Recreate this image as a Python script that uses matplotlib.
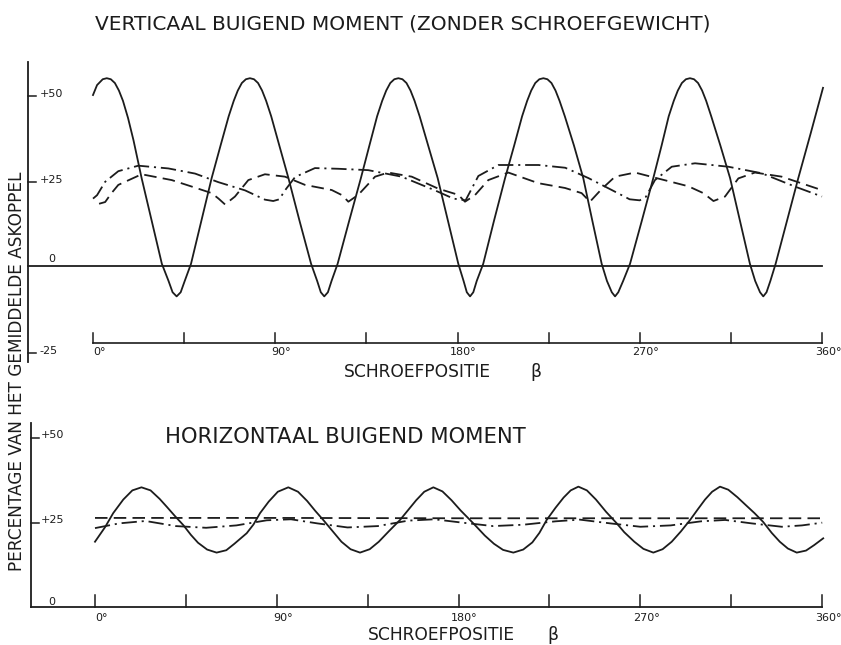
import matplotlib
matplotlib.use("Agg")
import matplotlib.pyplot as plt

plt.rcParams['font.family'] = ['DejaVu Sans']
plt.rcParams['lines.scale_dashes'] = False

# ---------------- data ----------------
# Top panel: vertical bending moment (percentage of mean shaft torque)
top_solid_deg = [0, 2, 4.8, 6.8, 8.8, 10.8, 12.8, 14.8, 17.3, 20, 24, 29, 34,
                 37.3, 39.3, 41.3, 43.3, 45.3, 48.4,
                 53.5, 58.6, 63, 67, 69.5, 71.5, 73.5, 75.5, 77.5, 79.5, 81.5, 83.5, 85.5, 88, 92, 96.5, 102, 107.7,
                 110.7, 112.5, 114.2, 116, 117.8, 120.8,
                 126.5, 132.3, 136.5, 140.3, 142.8, 144.8, 146.8, 148.8, 150.8, 152.8, 154.8, 156.8, 158.8, 161.3,
                 165.5, 170.2, 175.3, 180.4,
                 183, 184.6, 186.2, 187.8, 189.5, 192.7,
                 198, 203.5, 208, 211.9, 214.4, 216.4, 218.4, 220.4, 222.4, 224.4, 226.4, 228.4, 230.4, 233,
                 237.5, 242.1, 246.6, 251.2,
                 253.8, 256.2, 257.8, 259.4, 261.8, 265.2,
                 271, 276.7, 280.8, 284.3, 286.8, 288.8, 290.8, 292.8, 294.8, 296.8, 298.8, 300.8, 302.8, 305.3,
                 309.8, 314.6, 319.5, 324.4,
                 327, 329.4, 331, 332.6, 334.5, 337.1,
                 342.7, 348.3, 354.4, 360.5]
top_solid_val = [49.7, 52.6, 54.3, 54.6, 54.3, 53.2, 51.0, 48.0, 43.0, 36.5, 25.5, 13.0, 0.5,
                 -4.5, -7.8, -9.0, -7.8, -4.5, 0.5,
                 13.0, 25.5, 35.0, 43.5, 48.0, 51.0, 53.2, 54.3, 54.6, 54.3, 53.2, 51.0, 48.0, 43.5, 35.0, 25.5, 13.0, 0.5,
                 -4.5, -7.8, -9.0, -7.8, -4.5, 0.5,
                 13.0, 25.5, 35.0, 43.5, 48.0, 51.0, 53.2, 54.3, 54.6, 54.3, 53.2, 51.0, 48.0, 43.5,
                 35.0, 25.5, 13.0, 0.5,
                 -4.5, -7.8, -9.0, -7.8, -4.5, 0.5,
                 13.0, 25.5, 35.0, 43.5, 48.0, 51.0, 53.2, 54.3, 54.6, 54.3, 53.2, 51.0, 48.0, 43.5,
                 35.0, 25.5, 13.0, 0.5,
                 -4.5, -7.8, -9.0, -7.8, -4.5, 0.5,
                 13.0, 25.5, 35.0, 43.5, 48.0, 51.0, 53.2, 54.3, 54.6, 54.3, 53.2, 51.0, 48.0, 43.5,
                 35.0, 25.5, 13.0, 0.5,
                 -4.5, -7.8, -9.0, -7.8, -4.5, 0.5,
                 13.0, 25.5, 38.5, 51.8]

top_dashdot_deg = [0, 2, 6, 12.5, 22.4, 37.2, 50.4, 61.9, 75.1, 84.9, 89, 92, 94.8, 99.8, 109.6, 121.1,
                   135.9, 152.4, 168.9, 178, 184, 190.3, 200.2, 220, 233.2, 244.6, 256.2, 265, 270, 273,
                   277.5, 285.8, 297.3, 313.7, 330.2, 346.7, 360]
top_dashdot_val = [19.5, 20.5, 24.4, 27.5, 29.1, 28.3, 26.8, 24.3, 21.9, 19.2, 18.8, 19.3, 21.9, 25.8, 28.4, 28.2,
                   27.8, 25.9, 21.9, 19.5, 19.0, 26.1, 29.3, 29.3, 28.5, 25.5, 22.0, 19.3, 19.0, 20.0,
                   24.9, 28.8, 29.8, 28.8, 26.9, 23.0, 20.1]

top_dashed_deg = [3, 6, 9, 12.5, 24, 38.9, 50.4, 58.6, 62, 65.2, 70.1, 76.7, 84.9, 94.8, 104.7, 117.9, 123,
                  126.1, 131, 139.3, 145.8, 157.4, 170.5, 180.4, 183.7, 188.6, 195.2, 205.1, 219.9, 233.1,
                  241.3, 245.4, 251.2, 257.8, 267.7, 277.5, 294, 301.4, 306.4, 312.1, 318.7, 326.9, 340.1,
                  359.8]
top_dashed_val = [18.0, 18.5, 21.0, 23.5, 26.6, 24.9, 22.7, 21.1, 19.5, 17.8, 20.1, 24.9, 26.6, 25.9, 23.5, 22.0, 20.5,
                  18.6, 20.6, 25.9, 27.1, 25.9, 22.4, 20.6, 18.6, 20.5, 24.9, 27.1, 24.0, 22.6,
                  21.1, 18.6, 22.3, 25.9, 27.1, 25.6, 23.1, 21.1, 18.8, 20.1, 25.4, 27.1, 25.9,
                  22.0]

# Bottom panel: horizontal bending moment
bot_solid_deg = [0, 5, 9, 14, 18.5, 23, 27.5, 32, 35.5, 39.5, 43.7, 47.5, 51, 55.5, 60.2, 65, 69, 75.1, 78.5,
                 81.7, 86, 90.5, 95.7, 100.5, 105, 109, 113, 117.5, 122, 126.5, 131.2, 136, 140.5, 145.5,
                 151, 155, 159, 163, 167.5, 172, 176.5, 181, 187.3, 193, 197.5, 202, 207.1, 212, 216.5,
                 220, 223.6, 228, 232, 235.5, 239.3, 243.5, 248, 253, 258.3, 262, 267, 271.5, 276.4, 281,
                 285.5, 290, 294.6, 298.5, 302, 305.5, 309.4, 313.5, 318, 322.5, 326.5, 330.8, 335, 339,
                 343, 347.4, 352, 356, 360.5]
bot_solid_val = [19.2, 23.5, 27.6, 31.6, 34.3, 35.2, 34.3, 31.8, 29.5, 26.8, 24.1, 21.2, 18.9, 16.9, 16.0, 16.7, 18.6, 21.7, 24.3,
                 27.6, 31.0, 33.9, 35.2, 33.9, 31.2, 28.3, 25.6, 22.4, 19.2, 17.0, 16.0, 17.0, 19.2, 22.3,
                 25.6, 28.5, 31.4, 33.9, 35.2, 34.0, 31.4, 28.4, 24.6, 21.0, 18.6, 16.8, 16.0, 16.9, 19.0,
                 21.8, 25.6, 29.2, 32.2, 34.3, 35.4, 34.3, 31.6, 28.0, 24.6, 22.0, 19.2, 17.1, 16.0, 17.0,
                 19.2, 22.2, 25.6, 28.8, 31.6, 33.9, 35.4, 34.5, 32.3, 29.8, 27.6, 25.0, 21.8, 19.2,
                 17.2, 16.0, 16.6, 18.2, 20.2]

bot_dashdot_deg = [0, 12, 25, 40, 55, 70, 85, 97, 110, 125, 140, 155, 168, 182, 197, 212, 228, 240, 255,
                   270, 285, 300, 312, 325, 340, 350, 360]
bot_dashdot_val = [23.2, 24.6, 25.3, 23.8, 23.3, 24.0, 25.5, 25.8, 24.6, 23.4, 23.8, 25.4, 25.8, 24.8, 23.8,
                   24.2, 25.2, 25.7, 24.6, 23.6, 24.0, 25.2, 25.6, 24.6, 23.6, 24.0, 24.8]

bot_dashed_deg = [0, 90, 180, 270, 360]
bot_dashed_val = [26.2, 26.2, 26.1, 26.1, 26.1]

x_ticks = [0, 45, 90, 135, 180, 225, 270, 315, 360]
x_labeled = [0, 90, 180, 270, 360]
x_ticklabels = ["0°", "90°", "180°", "270°", "360°"]
top_yticks = [50, 25, -25]
top_yticklabels = ["+50", "+25", "-25"]
bot_yticks = [50, 25]
bot_yticklabels = ["+50", "+25"]

title = "VERTICAAL BUIGEND MOMENT (ZONDER SCHROEFGEWICHT)"
subtitle = "HORIZONTAAL BUIGEND MOMENT"
ylabel = "PERCENTAGE VAN HET GEMIDDELDE ASKOPPEL"
xlabel_word = "SCHROEFPOSITIE"
xlabel_sym = "β"

# ---------------- figure ----------------
W, H = 841, 645
fig = plt.figure(figsize=(W / 100, H / 100), dpi=100)
INK = "#1c1c1c"
LW = 1.3
dashed = (0, (9, 4.5))
dashdot = (0, (11, 3.5, 1.5, 3.5))


def ax_at(l, t, r, b):
    return fig.add_axes([l / W, 1 - b / H, (r - l) / W, (b - t) / H])


def ftext(x, y, s, **kw):
    fig.text(x / W, 1 - y / H, s, color=INK, **kw)


# ---- top panel ----
ax1 = ax_at(28, 60, 830, 362)
ax1.set_xlim(-32.10, 363.95)
ax1.set_ylim(-28.13, 59.91)
ax1.set_axis_off()
x0 = -32.10
ax1.plot([x0, x0], [-28.1, 59.3], color=INK, lw=1.3, clip_on=False)
ax1.plot([x0, 360], [0, 0], color=INK, lw=1.3, clip_on=False)
for v, s in zip(top_yticks, top_yticklabels):
    ax1.plot([x0, x0 + 4], [v - 0.6, v - 0.6], color=INK, lw=1.1, clip_on=False)
    ax1.text(-26.3, v, s, ha='left', va='center', fontsize=8, color=INK)
ax1.text(-20.4, 1.9, "0", ha='center', va='center', fontsize=8, color=INK)
ax_y = -22.6
ax1.plot([0, 360], [ax_y, ax_y], color=INK, lw=1.2, clip_on=False)
for t in x_ticks:
    ax1.plot([t, t], [ax_y, ax_y + 2.9], color=INK, lw=1.1, clip_on=False)
for t, s in zip(x_labeled, x_ticklabels):
    ax1.text(t + 3, -25.3, s, ha='center', va='center', fontsize=8, color=INK)

ax1.plot(top_solid_deg, top_solid_val, color=INK, lw=LW, clip_on=False)
ax1.plot(top_dashdot_deg, top_dashdot_val, color=INK, lw=LW, linestyle=dashdot, clip_on=False)
ax1.plot(top_dashed_deg, top_dashed_val, color=INK, lw=LW, linestyle=dashed, clip_on=False)

# ---- bottom panel ----
ax2 = ax_at(31, 420, 830, 610)
ax2.set_xlim(-31.68, 363.86)
ax2.set_ylim(-0.88, 55.0)
ax2.set_axis_off()
x0b = -31.68
ax2.plot([x0b, x0b], [0, 54.1], color=INK, lw=1.3, clip_on=False)
ax2.plot([x0b, 360], [0, 0], color=INK, lw=1.3, clip_on=False)
for v, s in zip(bot_yticks, bot_yticklabels):
    ax2.plot([x0b, x0b + 4], [v - 0.4, v - 0.4], color=INK, lw=1.1, clip_on=False)
    ax2.text(-27.0, v + 0.6, s, ha='left', va='center', fontsize=8, color=INK)
ax2.text(-21.4, 1.6, "0", ha='center', va='center', fontsize=8, color=INK)
for t in x_ticks:
    ax2.plot([t, t], [0, 3.5], color=INK, lw=1.1, clip_on=False)

ax2.plot(bot_solid_deg, bot_solid_val, color=INK, lw=LW, clip_on=False)
ax2.plot(bot_dashdot_deg, bot_dashdot_val, color=INK, lw=LW, linestyle=dashdot, clip_on=False)
ax2.plot(bot_dashed_deg, bot_dashed_val, color=INK, lw=LW, linestyle=dashed, clip_on=False)

# bottom x tick labels in figure pixels
for t, s in zip(x_labeled, x_ticklabels):
    ftext(95 + t * 2.02 + 6, 618, s, ha='center', va='center', fontsize=8)

# ---- texts ----
ftext(403, 24, title, ha='center', va='center', fontsize=14.5)
ftext(345, 437, subtitle, ha='center', va='center', fontsize=15.2)
ftext(417, 372, xlabel_word, ha='center', va='center', fontsize=12.3)
ftext(536, 372, xlabel_sym, ha='center', va='center', fontsize=12.3)
ftext(441, 635, xlabel_word, ha='center', va='center', fontsize=12.3)
ftext(553, 635, xlabel_sym, ha='center', va='center', fontsize=12.3)
ftext(17, 371, ylabel, ha='center', va='center', fontsize=12.2, rotation=90)

fig.savefig("out.png", dpi=100, facecolor="white")
